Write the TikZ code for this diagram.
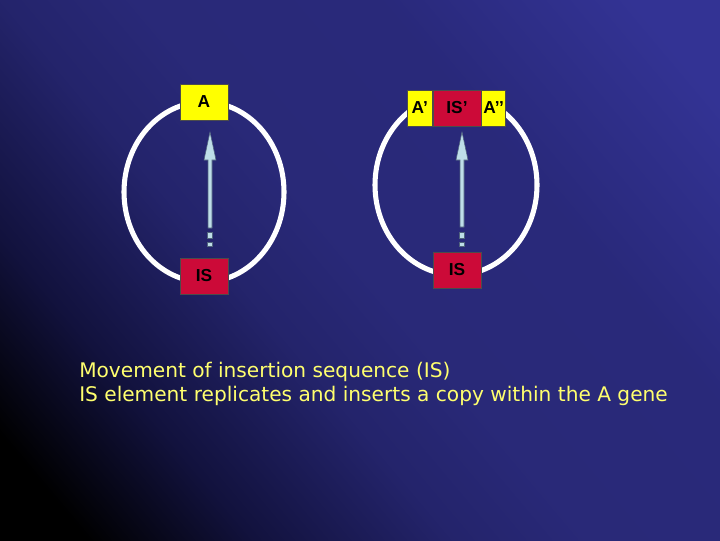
\documentclass[tikz,border=0pt]{standalone}
\usepackage{fontspec}
\newfontfamily\boxfont{Liberation Sans}
\newfontfamily\capfont{DejaVu Sans}
\definecolor{genered}{RGB}{204,10,56}
\definecolor{geneyel}{RGB}{255,255,0}
\definecolor{arrfill}{RGB}{190,222,232}
\definecolor{arrline}{RGB}{80,100,125}
\definecolor{captxt}{RGB}{255,255,110}
\pgfdeclarehorizontalshading{slidebg}{100bp}{%
  rgb(0bp)=(0,0,0);
  rgb(20bp)=(0,0,0);
  rgb(30bp)=(0.07,0.07,0.24);
  rgb(42bp)=(0.14,0.14,0.42);
  rgb(50bp)=(0.16,0.16,0.47);
  rgb(65bp)=(0.16,0.16,0.48);
  rgb(80bp)=(0.20,0.20,0.58);
  rgb(100bp)=(0.20,0.20,0.58)}
\tikzset{
  gene/.style={draw=black!70, line width=0.5pt, minimum height=36*0.75pt, inner sep=0pt, font=\boxfont\bfseries\fontsize{13}{13}\selectfont, text=black},
  ring/.style={draw=white, line width=3.8pt},
  arrbody/.style={fill=arrfill, draw=arrline, line width=0.4pt},
}
\begin{document}
\begin{tikzpicture}[x=0.75pt,y=-0.75pt]
\useasboundingbox (0,0) rectangle (720,540);
\shade[shading=slidebg, shading angle=40] (0,0) rectangle (720,540);
% left ring
\draw[ring] (204,192) ellipse [x radius=80, y radius=90];
\node[gene, fill=geneyel, minimum width=48*0.75pt] (A) at (204,102) {A};
\node[gene, fill=genered, minimum width=48*0.75pt] (IS) at (204,276) {IS};
\coordinate (tipL) at (210,132);
\fill[arrbody] (210,132) -- (216,160) -- (212,160) -- (212,228) -- (208,228) -- (208,160) -- (204,160) -- cycle;
\fill[arrbody] (207.5,232) rectangle (212.5,238);
\fill[arrbody] (207.5,242) rectangle (212.5,246);
% right ring
\draw[ring] (456,185) ellipse [x radius=81, y radius=90];
\node[gene, fill=genered, minimum width=48*0.75pt] (ISp) at (457,108) {IS’};
\node[gene, fill=geneyel, minimum width=25*0.75pt, anchor=east] (Ap) at (ISp.west) {A’};
\node[gene, fill=geneyel, minimum width=24*0.75pt, anchor=west] (App) at (ISp.east) {A’’};
\node[gene, fill=genered, minimum width=48*0.75pt] (IS2) at (457,270) {IS};
\coordinate (tipR) at (462,132);
\fill[arrbody] (462,132) -- (468,160) -- (464,160) -- (464,227) -- (460,227) -- (460,160) -- (456,160) -- cycle;
\fill[arrbody] (459.5,232) rectangle (464.5,238);
\fill[arrbody] (459.5,242) rectangle (464.5,246);
% caption
\node[anchor=base west, inner sep=0pt, text=captxt, font=\capfont\fontsize{15.1}{18}\selectfont, align=left] (cap) at (79,401) {Movement of insertion sequence (IS)\\IS element replicates and inserts a copy within the A gene};
\end{tikzpicture}
\end{document}
